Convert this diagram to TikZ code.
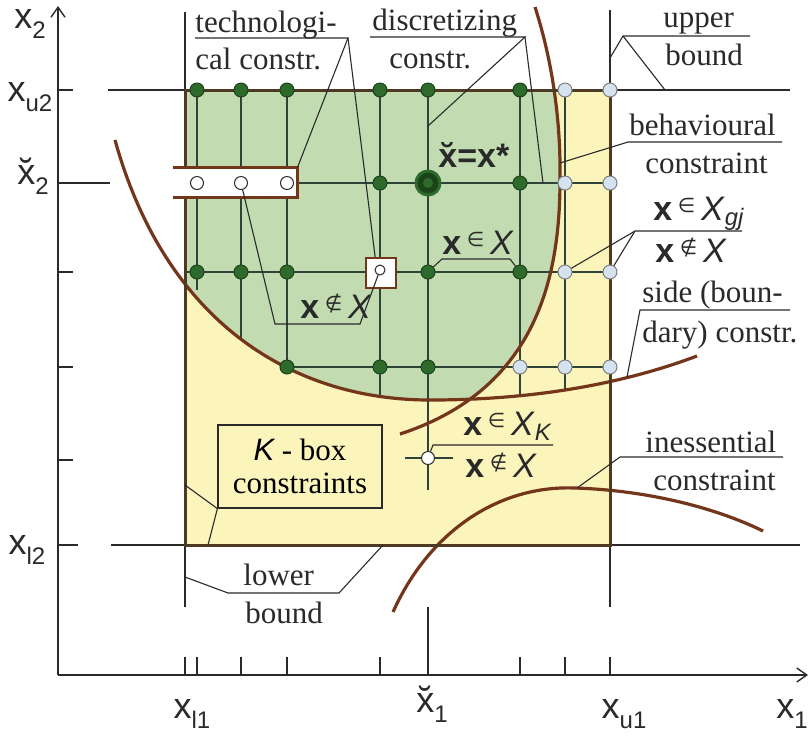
\documentclass[tikz,border=0pt]{standalone}
\usepackage{fontspec}
\setmainfont{Liberation Serif}
\setsansfont{Liberation Sans}
\newfontfamily\symfont{DejaVu Sans}
\usetikzlibrary{arrows.meta}
\definecolor{Grass}{HTML}{C3DBB0}
\definecolor{Cream}{HTML}{FBF5BC}
\definecolor{Leaf}{HTML}{2E6A2B}
\definecolor{DeepLeaf}{HTML}{1C4419}
\definecolor{Sky}{HTML}{D5E3F1}
\definecolor{Rust}{HTML}{74361A}
\definecolor{Umber}{HTML}{4E3A22}
\definecolor{Wire}{HTML}{2F4338}
\definecolor{Ink}{HTML}{2A2A2A}
\tikzset{
    gdot/.style={circle, fill=Leaf, draw=DeepLeaf, line width=0.5pt, inner sep=0pt, minimum size=7pt},
    bdot/.style={circle, fill=Sky, draw=Ink!60, line width=0.5pt, inner sep=0pt, minimum size=7pt},
    wdot/.style={circle, fill=white, draw=Ink, line width=0.5pt, inner sep=0pt, minimum size=6.5pt},
    optdot/.style={circle, fill=DeepLeaf, draw=Leaf, line width=1.5pt, inner sep=0pt, minimum size=12pt,
        path picture={\fill[Leaf] (path picture bounding box.center) circle (2.5pt);}},
    sqbox/.style={draw=Rust, fill=white, line width=1.2pt, inner sep=0pt, minimum size=15pt},
    kbox/.style={draw=Ink, fill=Cream, line width=0.6pt, inner sep=0pt, minimum width=82pt, minimum height=41.5pt,
        align=center, font=\fontsize{15.5}{16.5}\selectfont},
    gridline/.style={Wire, line width=0.7pt},
    leader/.style={Ink, line width=0.55pt},
    curve/.style={Rust, line width=1.6pt},
    axis/.style={Ink, line width=0.7pt, -{Straight Barb[length=5pt, width=7pt]}},
    word/.style={anchor=base west, inner sep=0pt, font=\fontsize{15.5}{18}\selectfont, text=Ink},
    sym/.style={anchor=base west, inner sep=0pt, font=\sffamily\fontsize{17}{20}\selectfont, text=Ink},
    axlabel/.style={inner sep=0pt, font=\sffamily\fontsize{18}{20}\selectfont, text=Ink},
}
\newcommand{\vx}{\textbf{x}}
\newcommand{\vX}{\textit{X}}
\newcommand{\elem}{\,\raisebox{.4ex}{\symfont\fontsize{10}{10}\selectfont ∈}\,}
\newcommand{\nelem}{\,\raisebox{.4ex}{\symfont\fontsize{10}{10}\selectfont ∉}\,}
\newcommand{\brv}[1]{\ooalign{#1\cr\hidewidth ˘\hidewidth}}
\newcommand{\axl}[2]{#1\raisebox{-.5ex}{\fontsize{12}{12}\selectfont #2}}
\newcommand{\lowcurve}{(115,140) .. controls (165,320) and (290,400) .. (430,400) .. controls (530,400) and (620,385) .. (697,356)}
\newcommand{\rightcurve}{(535,7) .. controls (552,60) and (561,120) .. (560,180) .. controls (560,280) and (535,390) .. (400,434)}
\newcommand{\inesscurve}{(393,612) .. controls (430,530) and (500,485) .. (575,488) .. controls (640,490) and (710,505) .. (763,531)}

\begin{document}
\begin{tikzpicture}[x=0.5pt, y=-0.5pt]
    \fill[white] (0,0) rectangle (809,736);
    \useasboundingbox (0,0) rectangle (809,736);

    % K-box and feasible region
    \fill[Cream] (185,90) rectangle (610,545);
    \begin{scope}
        \clip (185,90) rectangle (610,545);
        \clip \lowcurve -- (697,0) -- (115,0) -- cycle;
        \clip \rightcurve -- (0,434) -- (0,7) -- cycle;
        \fill[Grass] (185,90) rectangle (610,545);
    \end{scope}

    % discretization grid
    \foreach \gx/\gy in {197/290, 241/340, 287/373, 380/396, 428/490, 520/397, 565/390}
        \draw[gridline] (\gx,90) -- (\gx,\gy);
    \draw[gridline] (297,183) -- (610,183);
    \draw[gridline] (185,272) -- (610,272);
    \draw[gridline] (287,367) -- (610,367);
    \draw[gridline] (405,458) -- (453,458);

    % bounds and axes
    \draw[leader] (185,12) -- (185,607);
    \draw[leader] (610,10) -- (610,607);
    \draw[leader] (428,607) -- (428,675);
    \draw[leader] (108,90) -- (790,90);
    \draw[leader] (58,183) -- (110,183);
    \draw[leader] (111,545) -- (800,545);
    \foreach \ty/\tl in {90/73, 272/73, 367/73, 460/73, 545/78}
        \draw[leader] (58,\ty) -- (\tl,\ty);
    \foreach \tx in {185,197,241,287,380,520,565,610}
        \draw[leader] (\tx,657) -- (\tx,675);
    \draw[axis] (58,675) -- (58,6);
    \draw[axis] (58,675) -- (808,675);

    % constraints
    \draw[curve] \lowcurve;
    \draw[curve] \rightcurve;
    \draw[curve] \inesscurve;
    \draw[Umber, line width=1.5pt] (185,90) rectangle (610,545);

    % technological constraints
    \node[inner sep=0pt, minimum width=62pt, minimum height=14.5pt] (tbox) at (235,182.5) {};
    \fill[white] (tbox.north west) rectangle (tbox.south east);
    \draw[Rust, line width=1.2pt] (tbox.north west) -- (tbox.north east) -- (tbox.south east) -- (tbox.south west);
    \node[sqbox] (sq) at (381,273) {};

    % grid points
    \foreach \i/\gx in {1/197,2/241,3/287,4/380,5/428,6/520}
        \node[gdot] (a\i) at (\gx,90) {};
    \foreach \i/\gx in {7/565,8/610}
        \node[bdot] (a\i) at (\gx,90) {};
    \foreach \i/\gx in {1/197,2/241,3/287}
        \node[wdot] (b\i) at (\gx,183) {};
    \node[gdot] (b4) at (380,183) {};
    \node[optdot] (b5) at (428,183) {};
    \node[gdot] (b6) at (520,183) {};
    \foreach \i/\gx in {7/565,8/610}
        \node[bdot] (b\i) at (\gx,183) {};
    \foreach \i/\gx in {1/197,2/241,3/287,5/428,6/520}
        \node[gdot] (c\i) at (\gx,272) {};
    \foreach \i/\gx in {7/565,8/610}
        \node[bdot] (c\i) at (\gx,272) {};
    \node[wdot, minimum size=5pt] (sqc) at (380,270) {};
    \foreach \i/\gx in {3/287,4/380,5/428}
        \node[gdot] (d\i) at (\gx,367) {};
    \foreach \i/\gx in {6/520,7/565,8/610}
        \node[bdot] (d\i) at (\gx,367) {};
    \node[wdot] (e5) at (428,458) {};

    % axis labels
    \node[axlabel] (lx2) at (30,24) {\axl{x}{2}};
    \node[axlabel] (lxu2) at (30,97) {\axl{x}{u2}};
    \node[axlabel] (lxb2) at (33,180) {\axl{\brv{x}}{2}};
    \node[axlabel] (lxl2) at (27,550) {\axl{x}{l2}};
    \node[axlabel] (lxl1) at (192,714) {\axl{x}{l1}};
    \node[axlabel] (lxb1) at (432,708) {\axl{\brv{x}}{1}};
    \node[axlabel] (lxu1) at (624,714) {\axl{x}{u1}};
    \node[axlabel] (lx1) at (792,714) {\axl{x}{1}};

    % technological constr.
    \node[word] (tech1) at (195,32) {technologi-};
    \node[word] (tech2) at (195,69) {cal constr.};
    \coordinate (techA) at (195,38);
    \coordinate (techB) at (348,38);
    \draw[leader] (techA) -- (techB) -- (tbox.north east);
    \draw[leader] (techB) -- (sq.110);

    % discretizing constr.
    \node[word] (disc1) at (372,30) {discretizing};
    \node[word] (disc2) at (389,68) {constr.};
    \coordinate (discA) at (370,37);
    \coordinate (discB) at (525,37);
    \coordinate (discC) at (428,126);
    \coordinate (discD) at (543,183);
    \draw[leader] (discA) -- (discB) -- (discC);
    \draw[leader] (discB) -- (discD);

    % upper bound
    \node[word] (up1) at (663,27) {upper};
    \node[word] (up2) at (665,65) {bound};
    \coordinate (upA) at (623,36);
    \coordinate (upB) at (750,36);
    \coordinate (upC) at (610,58);
    \coordinate (upD) at (665,90);
    \draw[leader] (upB) -- (upA) -- (upC);
    \draw[leader] (upA) -- (upD);

    % behavioural constraint
    \node[word] (beh1) at (629,135) {behavioural};
    \node[word] (beh2) at (645,173) {constraint};
    \coordinate (behA) at (628,142);
    \coordinate (behB) at (782,142);
    \coordinate (behC) at (560,163);
    \draw[leader] (behB) -- (behA) -- (behC);

    % x in X_gj
    \node[sym] (gj1) at (653,220) {\vx\elem\vX\textsubscript{\textit{gj}}};
    \node[sym] (gj2) at (655,262) {\vx\nelem\vX};
    \coordinate (gjA) at (635,231);
    \coordinate (gjB) at (742,231);
    \draw[leader] (gjB) -- (gjA) -- (c7);
    \draw[leader] (gjA) -- (c8);

    % side (boundary) constr.
    \node[word] (side1) at (642,302) {side (boun-};
    \node[word] (side2) at (642,342) {dary) constr.};
    \coordinate (sideA) at (640,310);
    \coordinate (sideB) at (790,310);
    \coordinate (sideC) at (627,377);
    \draw[leader] (sideB) -- (sideA) -- (sideC);

    % inessential constraint
    \node[word] (ine1) at (645,452) {inessential};
    \node[word] (ine2) at (653,490) {constraint};
    \coordinate (ineA) at (620,457);
    \coordinate (ineB) at (783,457);
    \coordinate (ineC) at (577,488);
    \draw[leader] (ineB) -- (ineA) -- (ineC);

    % K - box constraints
    \node[kbox] (kbox) at (300,466.5) {{\sffamily\itshape K} - box\\constraints};
    \coordinate (kL) at (185,485);
    \coordinate (kB) at (208,545);
    \draw[leader] (kL) -- (kbox.south west) -- (kB);

    % lower bound
    \node[word] (low1) at (243,585) {lower};
    \node[word] (low2) at (245,623) {bound};
    \coordinate (lowA) at (185,577);
    \coordinate (lowB) at (228,593);
    \coordinate (lowC) at (339,593);
    \coordinate (lowD) at (383,545);
    \draw[leader] (lowA) -- (lowB) -- (lowC) -- (lowD);

    % x not in X (technological)
    \node[sym] (out1) at (300,318) {\vx\nelem\vX};
    \coordinate (outA) at (275,324);
    \coordinate (outB) at (360,324);
    \draw[leader] (b2) -- (outA) -- (outB) -- (sqc);

    % x in X
    \node[sym] (in1) at (442,254) {\vx\elem\vX};
    \coordinate (inA) at (442,259);
    \coordinate (inB) at (510,259);
    \draw[leader] (c5) -- (inA) -- (inB) -- (c6);

    % optimum
    \node[sym, font=\sffamily\bfseries\fontsize{17}{20}\selectfont] (opt) at (438,167) {\brv{x}=x*};

    % x in X_K
    \node[sym] (k1) at (463,435) {\vx\elem\vX\textsubscript{\textit{K}}};
    \node[sym] (k2) at (465,477) {\vx\nelem\vX};
    \coordinate (kA) at (433,445);
    \coordinate (kB2) at (553,445);
    \draw[leader] (e5) -- (kA) -- (kB2);
\end{tikzpicture}
\end{document}
